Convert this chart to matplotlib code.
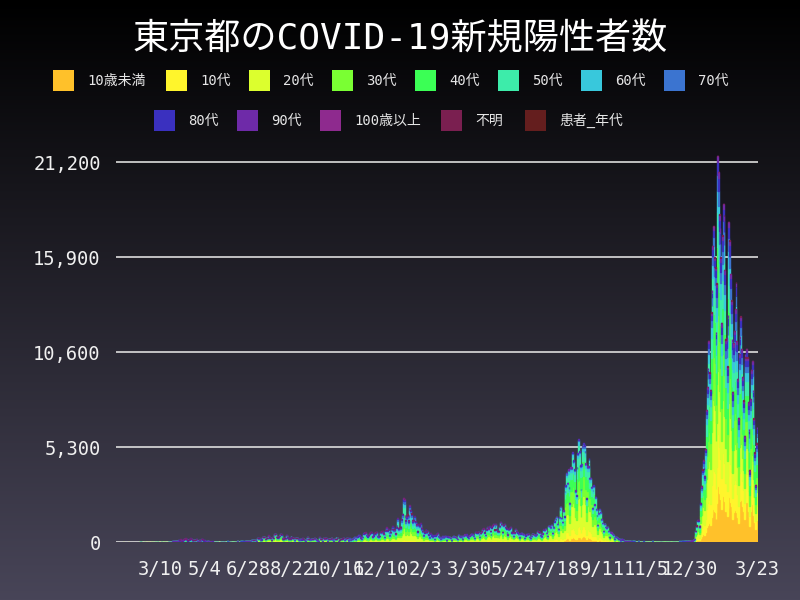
import matplotlib
matplotlib.use("Agg")
import matplotlib.pyplot as plt
import matplotlib.patches as mpatches
import numpy as np
import pandas as pd

# daily new cases in Tokyo, 2020-01-24 .. 2022-03-23
START = "2020-01-24"
cases_2020 = [
    1, 1, 0, 0, 0, 1, 0, 1,
    0, 0, 0, 0, 0, 0, 0, 0, 0, 0, 0, 0, 2, 3, 8, 5, 1, 3, 0, 3, 1, 1, 0, 1, 2, 1, 1, 3, 2,
    1, 3, 0, 5, 8, 1, 6, 3, 1, 2, 2, 6, 2, 3, 5, 3, 3, 1, 3, 12, 7, 8, 16, 17, 41, 47, 40, 63, 68, 13, 78,
    66, 97, 89, 116, 143, 83, 87, 144, 178, 189, 197, 166, 91, 161, 127, 149, 206, 181, 107, 102,
    123, 132, 134, 161, 103, 72, 39, 112, 47, 46,
    165, 154, 91, 87, 58, 38, 23, 39, 36, 22, 15, 28, 10, 30, 9, 14, 5, 10, 5, 5,
    11, 3, 2, 14, 8, 10, 11, 15, 22, 14, 5,
    13, 34, 12, 28, 20, 26, 14, 13, 12, 18, 22, 25, 24, 47, 48, 27, 16, 41, 35, 39,
    35, 29, 31, 55, 48, 54, 57, 60, 58, 54,
    67, 107, 124, 131, 111, 102, 106, 75, 224, 243, 206, 206, 119, 143, 165, 286, 293, 290, 188, 168,
    237, 238, 366, 260, 295, 239, 131, 266, 250, 367, 463,
    472, 292, 258, 309, 263, 360, 462, 429, 331, 197, 188, 222, 206, 389, 385, 260, 161, 207, 186, 339,
    258, 247, 212, 95, 182, 236, 250, 226, 148, 124, 100,
    170, 141, 211, 141, 181, 116, 77, 170, 149, 276, 187, 146, 146, 80, 191, 163, 167, 220, 218, 165,
    98, 88, 59, 195, 270, 195, 161, 78, 194, 218,
    196, 235, 207, 108, 58, 180, 194, 172, 185, 250, 146, 77, 166, 177, 284, 185, 235, 78, 132, 139,
    186, 185, 203, 215, 124, 102, 158, 221, 221, 215, 87,
    209, 116, 190, 122, 162, 242, 294, 189, 157, 293, 317, 393, 374, 352, 255, 180, 298, 493, 534, 522,
    539, 391, 314, 186, 401, 481, 570, 561, 418, 311,
    372, 500, 533, 449, 584, 327, 299, 352, 572, 602, 595, 621, 480, 305, 460, 678, 822, 664, 736, 556,
    392, 563, 748, 888, 884, 710, 708, 481, 856, 944, 1337,
]
cases_2021 = [
    783, 814, 816, 884, 1278, 1591, 2447, 2392, 1494, 1219, 1433, 1536, 1204, 1502, 2044, 1809, 1592, 1204, 1274, 1240,
    1471, 1184, 986, 1056, 618, 1026, 973, 1064, 868, 769, 633,
    393, 556, 676, 734, 577, 639, 429, 276, 412, 500, 370, 307, 369, 371, 178, 378, 445, 505, 353, 327,
    272, 178, 275, 213, 340, 270, 337, 329,
    232, 121, 316, 279, 301, 293, 237, 116, 290, 340, 335, 304, 293, 239, 175, 300, 409, 323, 303, 342,
    256, 187, 337, 420, 394, 376, 430, 313, 234, 364, 414,
    475, 440, 446, 355, 249, 399, 555, 545, 537, 570, 421, 306, 510, 591, 729, 667, 759, 543, 405, 711,
    843, 861, 759, 876, 635, 425, 828, 925, 1027, 698,
    879, 1032, 708, 609, 621, 591, 907, 1121, 1032, 573, 925, 969, 1010, 854, 772, 542, 419, 732, 766, 843,
    618, 539, 535, 341, 535, 743, 684, 614, 539, 473, 260,
    471, 487, 508, 472, 436, 351, 235, 369, 440, 439, 436, 467, 304, 209, 337, 501, 452, 453, 388, 376,
    236, 435, 619, 570, 562, 534, 386, 317, 476, 714,
    673, 660, 716, 518, 342, 593, 920, 896, 822, 950, 614, 502, 830, 1149, 1308, 1271, 1410, 1008, 727, 1387,
    1832, 1979, 1359, 1128, 1763, 1429, 2848, 3177, 3865, 3300, 4058,
    3058, 2195, 4166, 4166, 5042, 4515, 4566, 4066, 2884, 2612, 4200, 4989, 5773, 5094, 4295, 2962, 4377, 5386, 5534, 5405,
    5074, 4392, 2447, 4220, 4228, 4704, 3581, 3581, 3081, 1915, 2909,
    3168, 2097, 2539, 1853, 1490, 968, 1629, 1834, 1675, 1242, 1273, 1067, 611, 1004, 1052, 831, 782, 862, 621, 302,
    253, 537, 531, 435, 382, 253, 154, 267, 267, 218,
    200, 194, 161, 87, 149, 149, 143, 138, 82, 60, 49, 77, 77, 62, 72, 66, 40, 29, 36, 45,
    26, 36, 26, 19, 17, 29, 36, 21, 21, 23, 9,
    9, 29, 22, 18, 26, 14, 21, 6, 20, 25, 21, 22, 32, 13, 7, 8, 11, 20, 16, 26,
    11, 8, 24, 26, 17, 14, 11, 9, 9, 15,
    15, 16, 20, 21, 13, 10, 16, 21, 21, 19, 18, 15, 13, 21, 27, 27, 34, 24, 32, 31,
    36, 32, 37, 46, 56, 35, 44, 76, 64, 78, 79,
]
cases_2022 = [
    84, 78, 103, 151, 390, 641, 922, 1224, 1223, 871, 962, 2198, 3124, 4051, 4561, 4172, 3709, 5185, 7377, 8638,
    9699, 11227, 9468, 8503, 12813, 14086, 16538, 17631, 15895, 15337, 11751,
    14445, 21576, 20679, 18287, 17526, 15888, 12214, 17113, 18891, 18232, 15212, 11311, 11397, 9805, 12694, 17864,
    16833, 14963, 13485, 11324, 8386, 11094, 11800, 13000, 14500, 11215, 9112, 6942,
    10492, 11500, 12600, 10800, 9200, 7900, 5900, 10500, 10300, 10800, 10300, 7800, 6300, 4000, 8000, 9600,
    10100, 8500, 6900, 5000, 3200, 5500, 6400,
]

groups = ["10歳未満", "10代", "20代", "30代", "40代", "50代", "60代", "70代",
          "80代", "90代", "100歳以上", "不明", "患者_年代"]
colors = ["#ffc12a", "#fff52c", "#dcff2e", "#7aff33", "#3bff55", "#3decaa", "#38c8dc",
          "#3b74d0", "#3a30bf", "#6e2aa8", "#8e2a8e", "#7a1f50", "#641e1e"]

# age mix (%) per period, in the order of `groups`
period_starts = ["2020-01-24", "2020-06-01", "2020-11-01", "2021-03-01", "2021-07-01",
                 "2021-10-01", "2022-01-01", "2022-02-01", "2022-03-01"]
mix_early   = [1.5, 2, 19, 17, 16, 16, 10, 8, 7, 2.5, 0, 0.5, 0]
mix_sum2020 = [2.5, 4.5, 36, 21, 13, 10, 5, 4, 2.5, 1, 0, 0.3, 0]
mix_winter  = [2.5, 5, 25, 18, 16, 14, 8, 6, 4, 1.4, 0.02, 0.1, 0]
mix_spr2021 = [4, 8, 30, 18, 16, 12, 5.5, 3.5, 2, 0.8, 0, 0.1, 0]
mix_sum2021 = [6, 11, 31, 20, 16, 10, 3.5, 1.5, 0.7, 0.3, 0, 0, 0]
mix_lull    = [6, 8, 28, 18, 16, 12, 6, 3, 2, 1, 0, 0, 0]
mix_jan2022 = [11, 14, 23, 17, 15, 9, 4.5, 3, 2.3, 1, 0.02, 0.1, 0]
mix_feb2022 = [15, 14, 17, 15, 15, 9, 5.5, 4, 3.5, 1.5, 0.03, 0.1, 0]
mix_mar2022 = [22, 15, 14, 15, 14, 8, 4.5, 3.5, 3, 1.5, 0.02, 0.1, 0]

tick_dates = ["2020-03-10", "2020-05-04", "2020-06-28", "2020-08-22", "2020-10-16", "2020-12-10",
              "2021-02-03", "2021-03-30", "2021-05-24", "2021-07-18", "2021-09-11", "2021-11-05",
              "2021-12-30", "2022-03-23"]
y_ticks = [0, 5300, 10600, 15900, 21200]

# ---- split totals into age groups (largest remainder keeps integer counts)
total = np.array(cases_2020 + cases_2021 + cases_2022, dtype=float)
dates = pd.date_range(START, periods=len(total), freq="D")
mix = np.array([mix_early, mix_sum2020, mix_winter, mix_spr2021, mix_sum2021,
                mix_lull, mix_jan2022, mix_feb2022, mix_mar2022], dtype=float)
mix = mix / mix.sum(axis=1, keepdims=True)
pidx = np.searchsorted(pd.to_datetime(period_starts), dates, side="right") - 1
raw = total[:, None] * mix[pidx]
counts = np.floor(raw)
short = (total - counts.sum(axis=1))[:, None]
order = np.argsort(-(raw - counts), axis=1)
ranks = np.argsort(order, axis=1)
counts += (ranks < short)

x = (dates - dates[0]).days.values.astype(float)

# ---- figure with dark vertical gradient
fig = plt.figure(figsize=(8, 6), dpi=100)
fig.patch.set_facecolor("black")
bg = fig.add_axes([0, 0, 1, 1], zorder=-1)
top_c = np.array([0, 0, 0]) / 255
bot_c = np.array([72, 69, 88]) / 255
t = np.linspace(0, 1, 600)[:, None, None]
bg.imshow(top_c + (bot_c - top_c) * t * np.ones((1, 2, 3)), aspect="auto", extent=[0, 1, 0, 1])
bg.axis("off")

ax = fig.add_axes([116 / 800, 58 / 600, 642 / 800, 412 / 600])
ax.patch.set_alpha(0)

bottom = np.zeros(len(total))
for j, (name, c) in enumerate(zip(groups, colors)):
    h = counts[:, j]
    m = h > 0
    if m.any():
        ax.bar(x[m], h[m], bottom=bottom[m], width=1.0, color=c, edgecolor=c, linewidth=1.0)
    bottom += h

ax.set_xlim(-8.7, x[-1] + 1.3)
ax.set_ylim(0, 23000)
tick_x = (pd.to_datetime(tick_dates) - dates[0]).days.values
ax.set_xticks(tick_x)
ax.set_xticklabels([f"{d.month}/{d.day}" for d in pd.to_datetime(tick_dates)])
ax.set_yticks(y_ticks)
ax.set_yticklabels([f"{v:,}" for v in y_ticks])
for lbl in ax.get_xticklabels() + ax.get_yticklabels():
    lbl.set_fontfamily("DejaVu Sans Mono")
ax.tick_params(axis="both", length=0, labelsize=13.5, labelcolor="#f0f0f0")
ax.tick_params(axis="x", pad=13)
ax.tick_params(axis="y", pad=11)
ax.yaxis.grid(True, color="#dddddd", linewidth=1.2)
ax.set_axisbelow(True)
for s in ax.spines.values():
    s.set_visible(False)

# ---- title and hand-placed legend
fam = ["DejaVu Sans Mono", "Noto Sans CJK JP"]
fig.text(0.5, 1 - 39 / 600, "東京都のCOVID-19新規陽性者数", ha="center", va="center",
         fontsize=26, color="white", family=fam)
legend_rows = [(80.5, [53, 166, 249, 332, 415, 498, 581, 664]),
               (120.5, [154, 237, 320, 441, 525])]
k = 0
for yc, xs in legend_rows:
    for xl in xs:
        fig.patches.append(mpatches.Rectangle((xl / 800, 1 - (yc + 10.5) / 600), 21 / 800, 21 / 600,
                                              transform=fig.transFigure, facecolor=colors[k],
                                              edgecolor="none"))
        fig.text((xl + 34) / 800, 1 - yc / 600, groups[k], ha="left", va="center",
                 fontsize=10, color="#e6e6e6", family=fam)
        k += 1

fig.savefig("out.png", dpi=100, facecolor=fig.get_facecolor())
